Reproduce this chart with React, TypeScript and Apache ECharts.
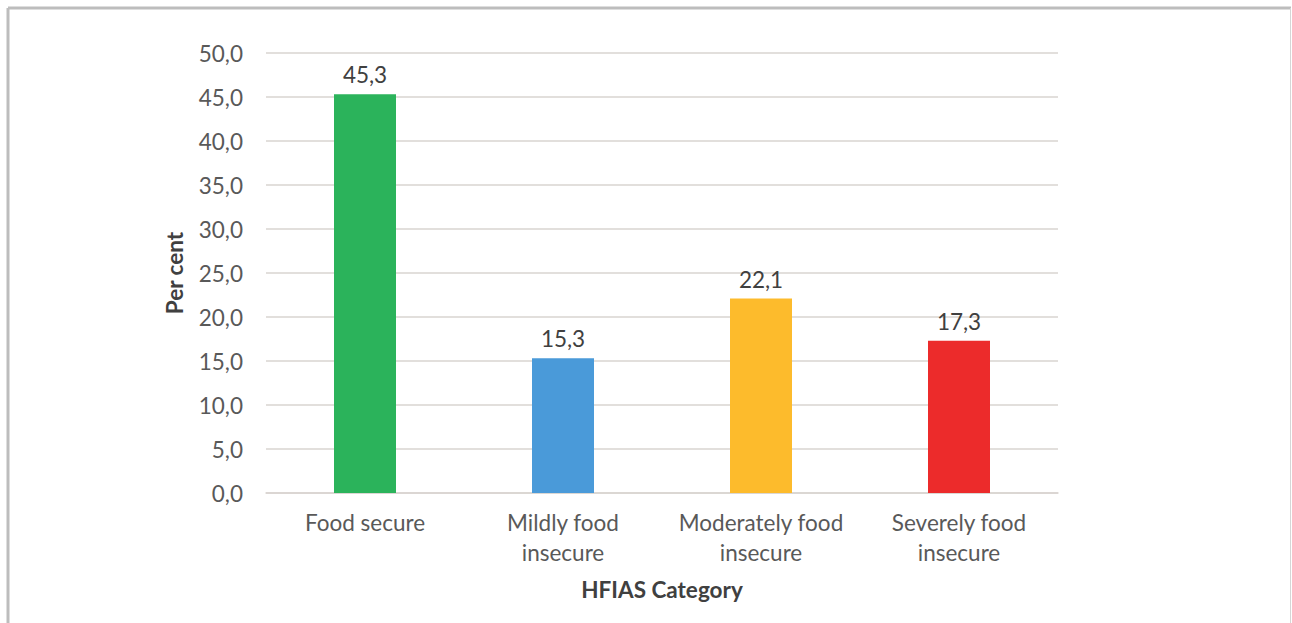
import React, { useEffect, useRef } from "react";
import * as echarts from "echarts";

const categories = ["Food secure", "Mildly food\ninsecure", "Moderately food\ninsecure", "Severely food\ninsecure"];
const values = [45.3, 15.3, 22.1, 17.3];
const barColors = ["#2BB35B", "#4A9AD9", "#FDBB2C", "#EC2B2B"];
const yTicks = { min: 0, max: 50, interval: 5 };

const FONT = "Lato, 'Open Sans', sans-serif";
const TXT = "#595959";
const FS = 22.5;

export default function App() {
  const ref = useRef<HTMLDivElement>(null);
  useEffect(() => {
    const chart = echarts.init(ref.current!, undefined, { renderer: "svg" });
    chart.setOption({
      animation: false,
      backgroundColor: "#ffffff",
      textStyle: { fontFamily: FONT },
      grid: { left: 266, right: 234, top: 53, bottom: 130 },
      graphic: [
        { type: "line", shape: { x1: 8, y1: 8, x2: 1291, y2: 8 }, style: { stroke: "#bdbdbd", lineWidth: 3 } },
        { type: "line", shape: { x1: 8, y1: 8, x2: 8, y2: 640 }, style: { stroke: "#bdbdbd", lineWidth: 3 } },
        { type: "line", shape: { x1: 1290.5, y1: 8, x2: 1290.5, y2: 640 }, style: { stroke: "#d6d6d6", lineWidth: 1 } },
      ],
      xAxis: {
        type: "category",
        data: categories,
        name: "HFIAS Category",
        nameLocation: "middle",
        nameGap: 85,
        nameTextStyle: { fontFamily: FONT, fontSize: FS, fontWeight: "bold", color: "#404040" },
        axisLine: { show: true, lineStyle: { color: "#d9d4d0", width: 1.5 } },
        axisTick: { show: false },
        axisLabel: { fontFamily: FONT, fontSize: FS, color: TXT, lineHeight: 30, margin: 14, interval: 0 },
      },
      yAxis: {
        type: "value",
        min: yTicks.min,
        max: yTicks.max,
        interval: yTicks.interval,
        name: "Per cent",
        nameLocation: "middle",
        nameGap: 80,
        nameTextStyle: { fontFamily: FONT, fontSize: FS, fontWeight: "bold", color: "#404040" },
        axisLine: { show: false },
        axisTick: { show: false },
        splitLine: { lineStyle: { color: "#d9d4d0", width: 1.5 } },
        axisLabel: {
          fontFamily: FONT,
          fontSize: FS,
          color: TXT,
          margin: 23,
          formatter: (v: number) => v.toFixed(1).replace(".", ","),
        },
      },
      series: [
        {
          type: "bar",
          barWidth: 62,
          data: values.map((v, i) => ({ value: v, itemStyle: { color: barColors[i] } })),
          label: {
            show: true,
            position: "top",
            distance: 8,
            fontFamily: FONT,
            fontSize: FS,
            color: "#404040",
            formatter: (p: any) => Number(p.value).toFixed(1).replace(".", ","),
          },
        },
      ],
    });
    return () => chart.dispose();
  }, []);
  return <div ref={ref} style={{ position: "fixed", left: 0, top: 0, width: 1292, height: 623 }} />;
}
